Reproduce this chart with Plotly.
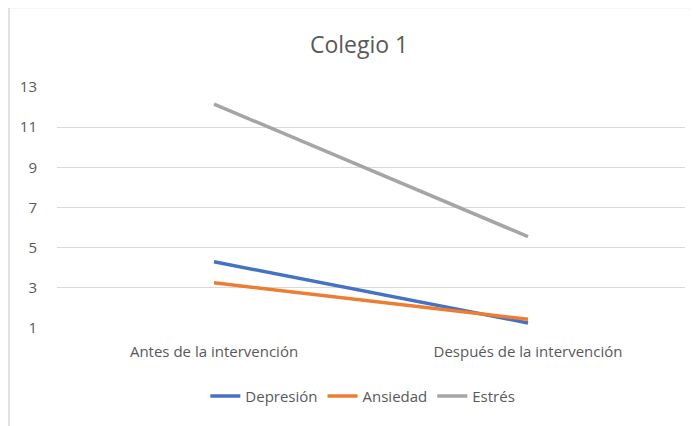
import plotly.graph_objects as go

categories = ["Antes de la intervención", "Después de la intervención"]
depresion = [4.3, 1.25]
ansiedad = [3.25, 1.43]
estres = [12.15, 5.55]
y_ticks = [1, 3, 5, 7, 9, 11, 13]

font_family = "Open Sans, sans-serif"
text_color = "#595959"

fig = go.Figure()
for name, vals, color in [
    ("Depresión", depresion, "#4472C4"),
    ("Ansiedad", ansiedad, "#ED7D31"),
    ("Estrés", estres, "#A5A5A5"),
]:
    fig.add_trace(go.Scatter(x=categories, y=vals, mode="lines", name=name,
                             line=dict(color=color, width=3.5)))

# page has an 8px body margin; compensate so plot lands at x 57..685, y 87..328
fig.update_layout(
    width=698, height=426,
    margin=dict(l=49, r=21, t=79, b=106),
    paper_bgcolor="white", plot_bgcolor="white",
    font=dict(family=font_family, color=text_color, size=15),
    title=dict(text="Colegio 1", x=0.503, xanchor="center", y=0.914, yanchor="middle",
               font=dict(size=23, color=text_color, family=font_family)),
    showlegend=True,
    legend=dict(orientation="h", x=0.487, xanchor="center", y=-0.215, yanchor="top",
                font=dict(size=15, color=text_color), tracegroupgap=0),
    xaxis=dict(type="category", showgrid=False, zeroline=False, showline=False,
               ticks="", tickfont=dict(size=15, color=text_color), range=[-0.5, 1.5],
               ticklabelstandoff=13),
    yaxis=dict(range=[1, 13], tickvals=y_ticks, showgrid=True, gridcolor="#D9D9D9",
               gridwidth=1, zeroline=False, showline=False, ticks="",
               tickfont=dict(size=15, color=text_color), ticklabelstandoff=19),
    shapes=[dict(type="rect", xref="paper", yref="paper",
                 x0=-0.0764, x1=1.1, y0=-0.5, y1=1.33,
                 line=dict(color="#D9D9D9", width=1.5), fillcolor="rgba(0,0,0,0)",
                 layer="below")],
)

fig.write_html("out.html")
